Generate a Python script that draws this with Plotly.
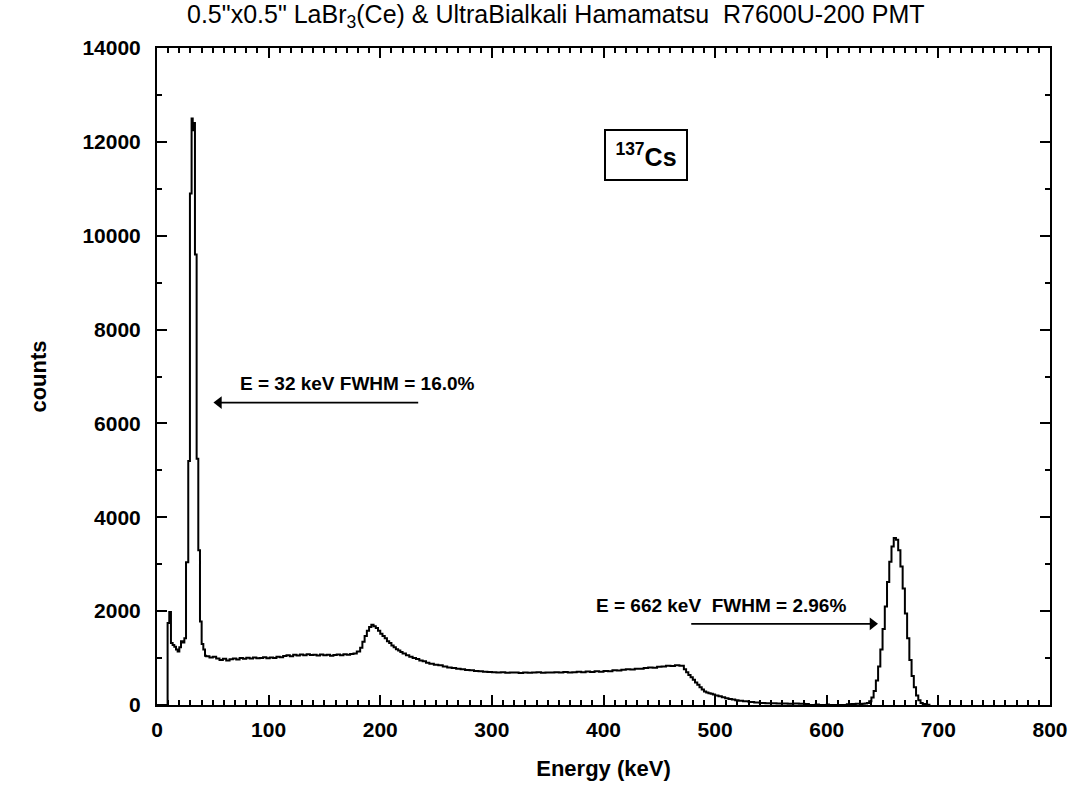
import plotly.graph_objects as go

# ---- spectrum data (left bin edges in keV, counts per bin) ----
energy_low = [0, 9.5, 11.0, 12.5, 14.0, 15.5, 17.0, 18.5, 20.0, 21.5, 23.0, 24.5,
              26.0, 28.0, 29.5, 31.0, 32.0, 33.0, 34.0, 35.5, 37.0, 38.5, 40.0, 41.5, 43.0]
counts_low = [0, 1750, 1980, 1320, 1280, 1240, 1180, 1140, 1230, 1360, 1330, 1420,
              3040, 5200, 10900, 12500, 12250, 12400, 9600, 5250, 3300, 1780, 1300, 1180, 1050]

energy_flat = [44, 47, 50, 53, 56, 59, 62, 65, 68, 71, 74, 77, 80, 83, 86, 89, 92, 95, 98,
               101, 104, 107, 110, 113, 116, 119, 122, 125, 128, 131, 134, 137, 140, 143,
               146, 149, 152, 155, 158, 161, 164, 167, 170, 173, 176, 179]
counts_flat = [1040, 1010, 1030, 990, 960, 985, 950, 975, 990, 970, 1000, 985, 1005, 990,
               1010, 995, 1000, 1015, 995, 1010, 1000, 1030, 1020, 1045, 1060, 1040, 1070,
               1055, 1075, 1060, 1080, 1065, 1070, 1055, 1075, 1060, 1070, 1050, 1065, 1075,
               1060, 1080, 1070, 1085, 1100, 1140]

energy_back = [182, 184, 186, 188, 190, 192, 194, 196, 198, 200, 202, 204, 206, 208, 210,
               212, 214, 216, 218, 220, 223, 226, 229, 232, 235, 238, 241]
counts_back = [1220, 1350, 1470, 1580, 1660, 1710, 1680, 1640, 1580, 1520, 1470, 1420,
               1360, 1320, 1270, 1230, 1190, 1160, 1130, 1100, 1060, 1030, 1000, 980, 950,
               930, 900]

energy_compton = [244, 248, 252, 256, 260, 264, 268, 272, 276, 280, 284, 288, 292, 296,
                  300, 304, 308, 312, 316, 320, 324, 328, 332, 336, 340, 344, 348, 352,
                  356, 360, 364, 368, 372, 376, 380, 384, 388, 392, 396, 400, 404, 408,
                  412, 416, 420, 424, 428, 432, 436, 440, 444, 448, 452, 456, 460, 464, 468]
counts_compton = [880, 860, 845, 820, 800, 790, 770, 760, 745, 740, 725, 720, 710, 705,
                  700, 690, 700, 685, 695, 690, 680, 695, 685, 690, 700, 685, 695, 690,
                  700, 690, 705, 695, 700, 710, 700, 715, 705, 720, 710, 725, 720, 740,
                  735, 750, 760, 755, 775, 770, 790, 800, 795, 815, 820, 835, 830, 845, 835]

energy_edge = [472, 474, 476, 478, 480, 482, 484, 486, 488, 490, 492, 494, 496, 498, 500,
               503, 506, 509, 512, 515, 518, 521, 525, 530, 535, 540, 545, 550, 555, 560,
               565, 570, 575, 580, 584, 590, 593, 600, 602, 610, 618, 622, 626]
counts_edge = [760, 700, 640, 590, 540, 480, 430, 380, 330, 290, 265, 250, 240, 225, 205,
               185, 165, 145, 130, 115, 100, 88, 78, 65, 55, 45, 38, 35, 30, 32, 28, 30,
               25, 22, 0, 12, 0, 10, 0, 0, 15, 20, 25]

energy_peak = [630, 632, 634, 636, 638, 640, 642, 644, 646, 648, 650, 652, 654, 656, 658,
               660, 662, 664, 666, 668, 670, 672, 674, 676, 678, 680, 682, 684, 686, 688,
               690, 692]
counts_peak = [20, 25, 30, 45, 80, 160, 300, 520, 820, 1180, 1620, 2100, 2620, 3050, 3380,
               3560, 3520, 3300, 2950, 2480, 1950, 1420, 960, 620, 380, 200, 100, 45, 20,
               10, 5, 0]

energy = energy_low + energy_flat + energy_back + energy_compton + energy_edge + energy_peak
counts = counts_low + counts_flat + counts_back + counts_compton + counts_edge + counts_peak

x_ticks = [0, 100, 200, 300, 400, 500, 600, 700, 800]
y_ticks = [0, 2000, 4000, 6000, 8000, 10000, 12000, 14000]

title_text = '0.5"x0.5" LaBr<sub>3</sub>(Ce) &amp; UltraBialkali Hamamatsu&nbsp; R7600U-200 PMT'

fig = go.Figure()
fig.add_trace(go.Scatter(x=energy, y=counts, mode="lines",
                         line=dict(color="black", width=2, shape="hv"),
                         showlegend=False, hoverinfo="skip"))

# arrows: shaft as shapes, heads as triangle markers
fig.add_shape(type="line", x0=56, x1=234, y0=6445, y1=6445, xref="x", yref="y",
              line=dict(color="black", width=1.8))
fig.add_shape(type="line", x0=478.6, x1=640, y0=1729, y1=1729, xref="x", yref="y",
              line=dict(color="black", width=1.8))
fig.add_trace(go.Scatter(x=[55.5], y=[6445], mode="markers",
                         marker=dict(symbol="triangle-left", size=11, color="black"),
                         showlegend=False, hoverinfo="skip"))
fig.add_trace(go.Scatter(x=[641], y=[1729], mode="markers",
                         marker=dict(symbol="triangle-right", size=11, color="black"),
                         showlegend=False, hoverinfo="skip"))

bold = "Liberation Sans, Arial, sans-serif"
axis_common = dict(showline=True, linecolor="black", linewidth=2, mirror="allticks",
                   ticks="inside", ticklen=10, tickwidth=1.5, tickcolor="black",
                   showgrid=False, zeroline=False,
                   tickfont=dict(family=bold, size=21, color="black", weight="bold"))

fig.update_xaxes(range=[0, 800], tickvals=x_ticks, ticktext=[str(v) for v in x_ticks],
                 minor=dict(ticks="inside", dtick=10, ticklen=5, tickwidth=1.5,
                            tickcolor="black", showgrid=False),
                 title=dict(text="<b>Energy (keV)</b>", standoff=20,
                            font=dict(family=bold, size=22, color="black")),
                 ticklabelstandoff=5, **axis_common)
fig.update_yaxes(range=[0, 14000], tickvals=y_ticks, ticktext=[str(v) for v in y_ticks],
                 minor=dict(ticks="inside", dtick=1000, ticklen=5, tickwidth=1.5,
                            tickcolor="black", showgrid=False),
                 title=dict(text="<b>counts</b>", standoff=30,
                            font=dict(family=bold, size=22, color="black")),
                 ticklabelstandoff=10, **axis_common)

annotations = [
    dict(text=title_text, xref="paper", yref="paper", x=0.447, y=1.0,
         xanchor="center", yanchor="middle", yshift=32, showarrow=False,
         font=dict(family="Liberation Sans, Arial, sans-serif", size=25, color="black")),
    dict(text="<b><sup>137</sup>Cs</b>", x=437.7, y=11720, xref="x", yref="y",
         showarrow=False, bordercolor="black", borderwidth=2, borderpad=4,
         width=72, height=40, bgcolor="white",
         font=dict(family=bold, size=25, color="black")),
    dict(text="<b>E = 32 keV FWHM = 16.0%</b>", x=180, y=6850, xref="x", yref="y",
         showarrow=False, font=dict(family=bold, size=19, color="black")),
    dict(text="<b>E = 662 keV&nbsp; FWHM = 2.96%</b>", x=505, y=2113, xref="x", yref="y",
         showarrow=False, font=dict(family=bold, size=19, color="black")),
]

fig.update_layout(width=1080, height=797, paper_bgcolor="white", plot_bgcolor="white",
                  margin=dict(l=157, r=24, t=48, b=92),
                  annotations=annotations)

fig.write_html("out.html")
